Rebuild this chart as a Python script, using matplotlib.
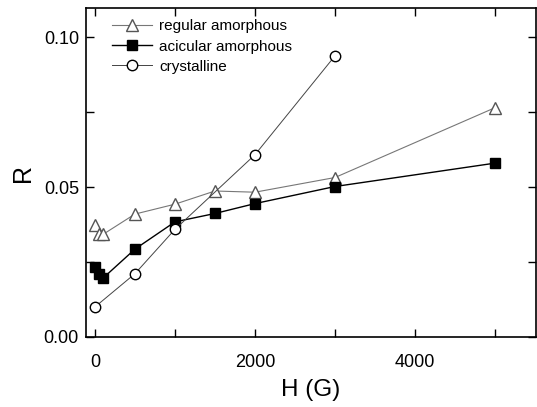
import numpy as np
import matplotlib
matplotlib.use('Agg')
import matplotlib.pyplot as plt
from matplotlib.ticker import MultipleLocator

plt.rcParams['font.family'] = ['Liberation Sans', 'DejaVu Sans']

# data
h_reg = [0, 50, 100, 500, 1000, 1500, 2000, 3000, 5000]
r_reg = [0.0373, 0.0345, 0.0342, 0.0410, 0.0443, 0.0487, 0.0483, 0.0532, 0.0765]

h_aci = [0, 50, 100, 500, 1000, 1500, 2000, 3000, 5000]
r_aci = [0.0232, 0.0211, 0.0196, 0.0293, 0.0384, 0.0412, 0.0445, 0.0502, 0.0580]

h_cry = [0, 500, 1000, 2000, 3000]
r_cry = [0.0100, 0.0211, 0.0359, 0.0608, 0.0938]

fig = plt.figure(figsize=(5.37, 4.07), dpi=100)
ax = fig.add_axes([0.160, 0.172, 0.838, 0.808])

ax.plot(h_reg, r_reg, color='#777777', lw=0.8, marker='^', ms=9,
        mfc='white', mec='#555555', mew=1.0, label='regular amorphous')
ax.plot(h_aci, r_aci, color='black', lw=1.0, marker='s', ms=7.5,
        mfc='black', mec='black', label='acicular amorphous')
ax.plot(h_cry, r_cry, color='#444444', lw=0.7, marker='o', ms=7.5,
        mfc='white', mec='black', mew=1.0, label='crystalline')

ax.set_xlim(-112, 5510)
ax.set_ylim(0.0, 0.1097)
ax.xaxis.set_major_locator(MultipleLocator(2000))
ax.xaxis.set_minor_locator(MultipleLocator(1000))
ax.yaxis.set_major_locator(MultipleLocator(0.05))
ax.yaxis.set_minor_locator(MultipleLocator(0.025))
ax.yaxis.set_major_formatter(plt.FormatStrFormatter('%.2f'))
ax.tick_params(which='both', direction='in', top=True, right=True,
               labelsize=13, width=1.0, length=6)
ax.tick_params(axis='x', which='major', pad=12)
ax.tick_params(axis='y', which='major', pad=5)
for s in ax.spines.values():
    s.set_linewidth(1.2)

ax.set_xlabel('H (G)', fontsize=17.5, labelpad=6)
ax.set_ylabel('R', fontsize=18, labelpad=6)

ax.legend(loc='upper left', frameon=False, fontsize=11, handlelength=2.6,
          handletextpad=0.45, labelspacing=0.4, borderaxespad=0.3,
          bbox_to_anchor=(0.035, 0.998))

fig.savefig('out.png', dpi=100)
